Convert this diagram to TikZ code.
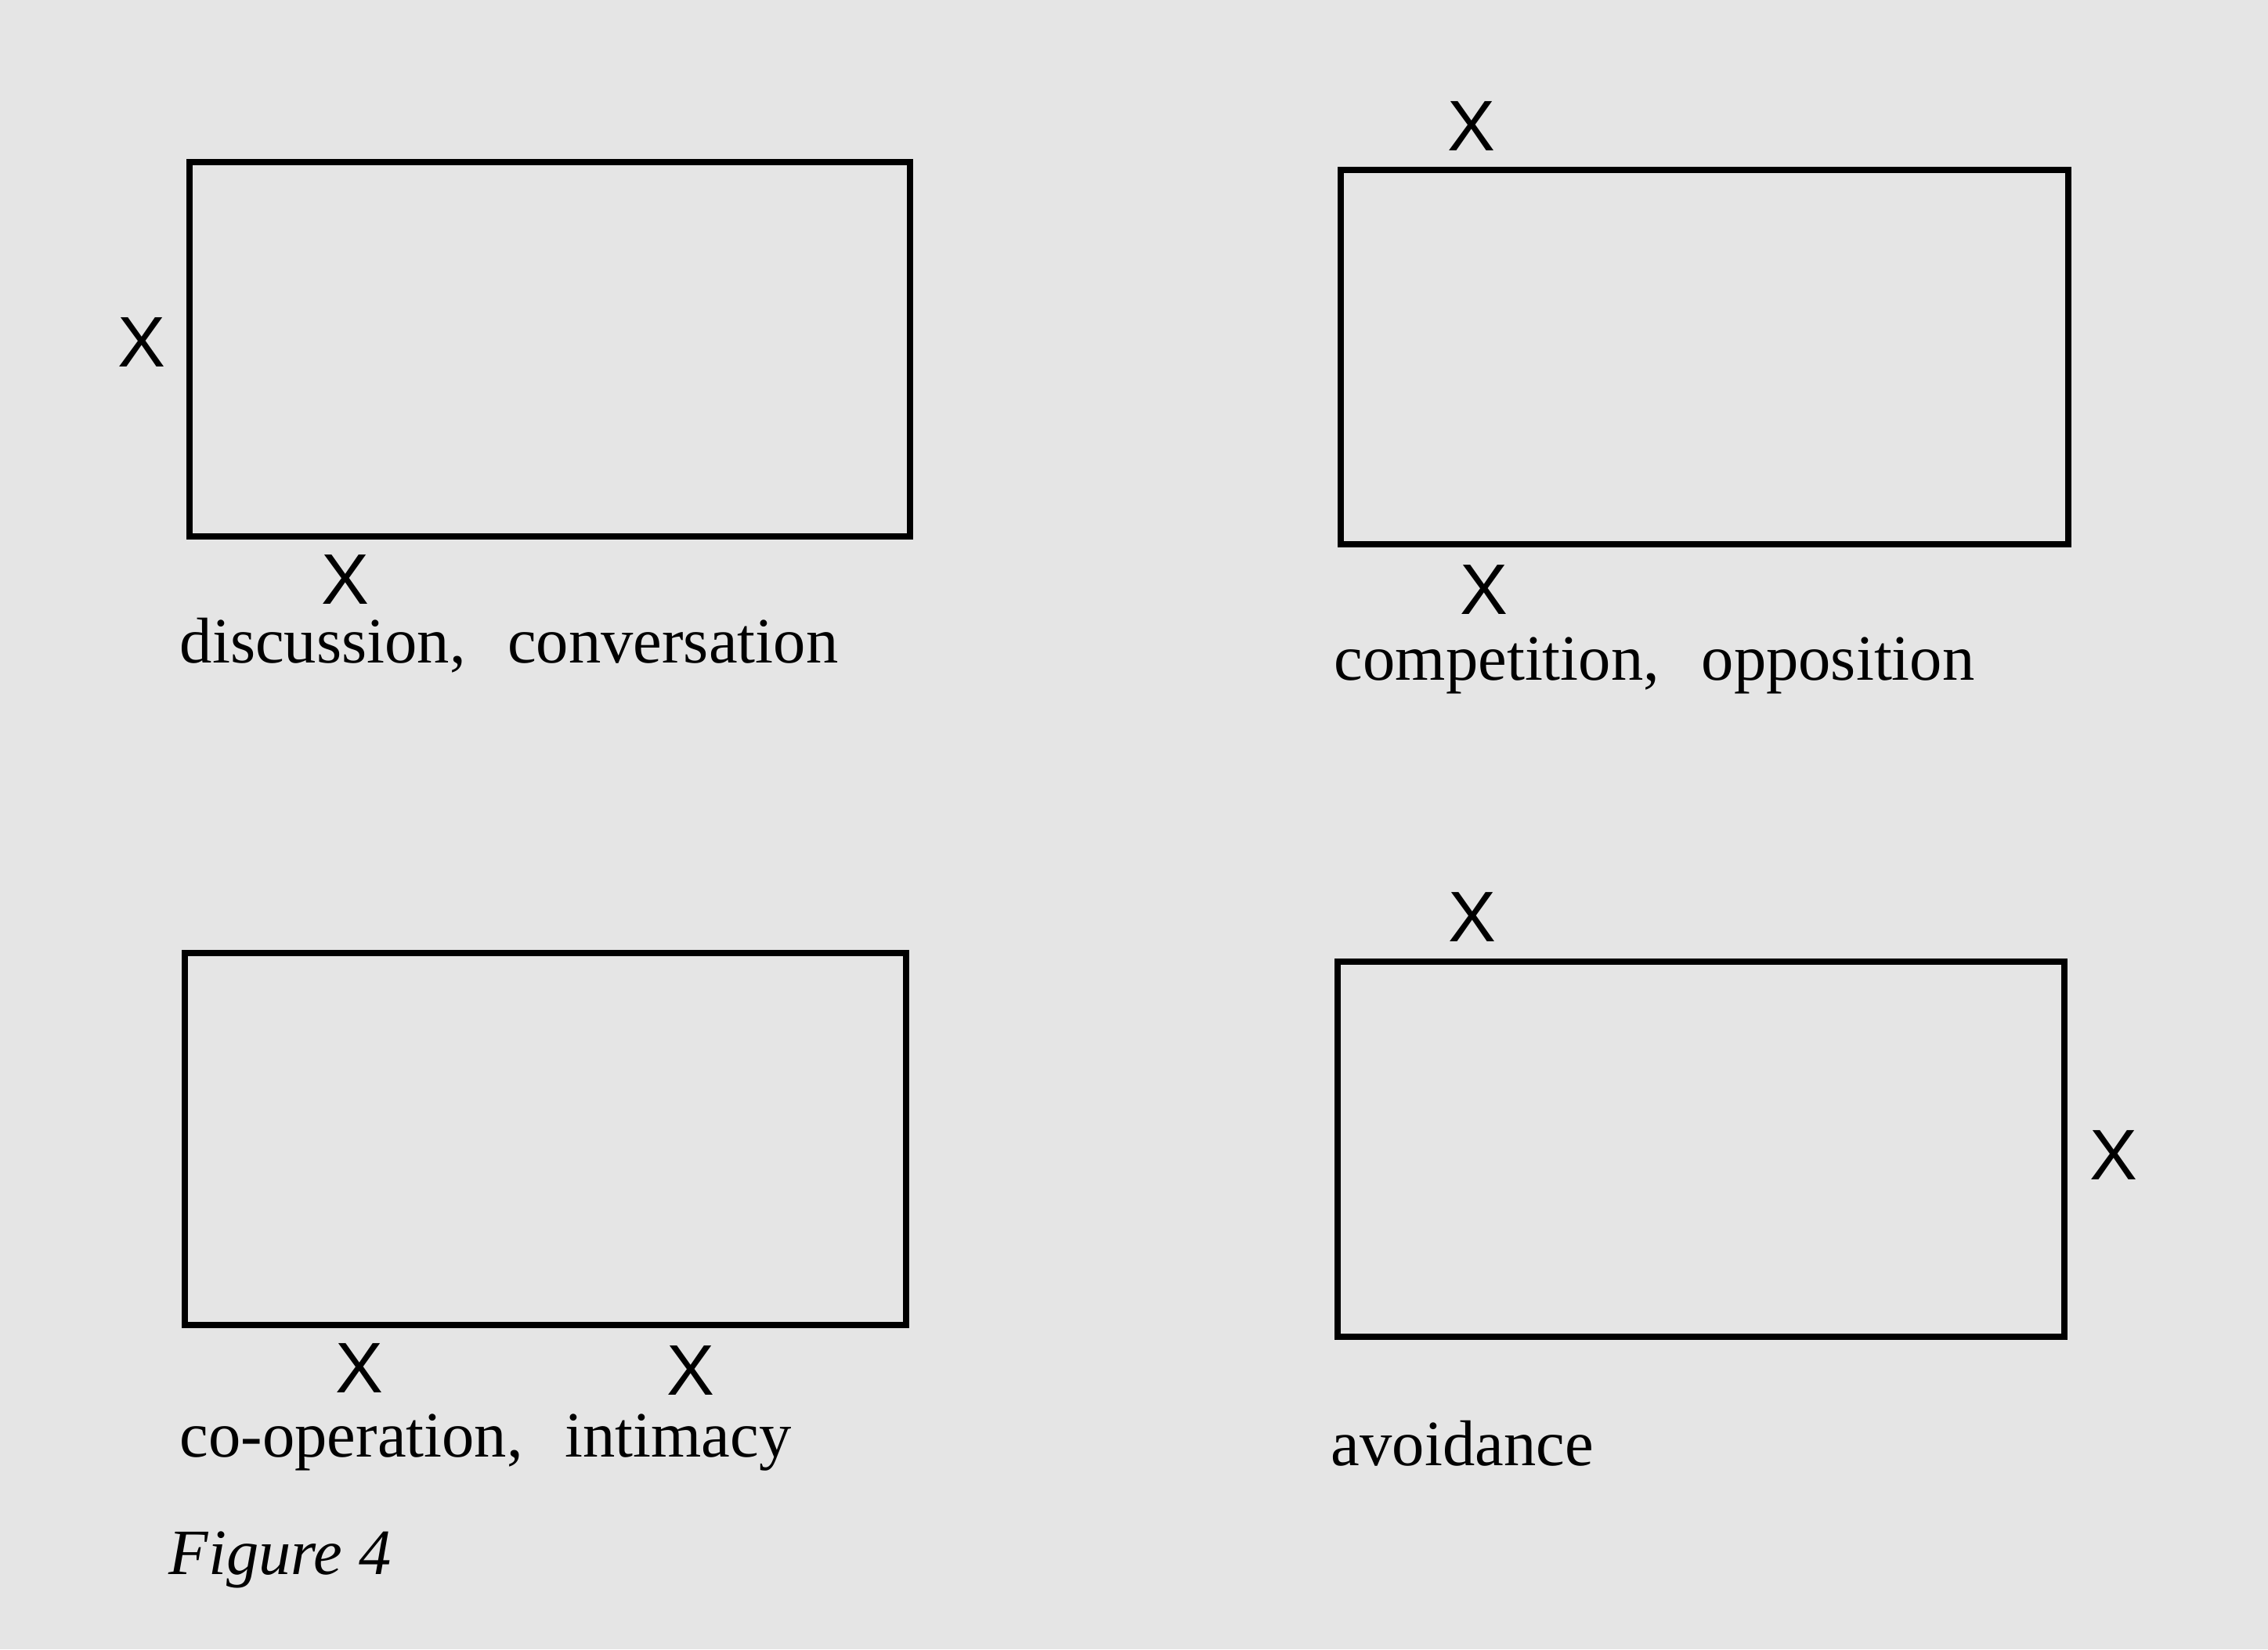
\documentclass[tikz,border=0pt]{standalone}
\usepackage{fontspec}
\setmainfont{Liberation Serif}
\setsansfont{Liberation Sans}
\usepackage{xcolor}
\usetikzlibrary{positioning}
\definecolor{paper}{RGB}{229,229,229}
\tikzstyle{frame} = [draw, rectangle, line width=2.2pt, inner sep=0,
   minimum width=9.25cm, minimum height=4.78cm]
\tikzstyle{cross} = [inner sep=0, font=\sffamily\fontsize{26}{26}\selectfont]
\tikzstyle{caption} = [inner sep=0, anchor=base west,
   font=\fontsize{23.5}{23.5}\selectfont]

\begin{document}
\begin{tikzpicture}
  \fill[paper] (0,0) rectangle (28.96,-21.06);
  \useasboundingbox (0,0) rectangle (28.96,-21.06);

  % tables
  \node[frame, minimum width=9.20cm] (d) at (7.02,-4.46) {};
  \node[frame, minimum width=9.29cm] (c) at (21.765,-4.56) {};
  \node[frame, minimum width=9.21cm, minimum height=4.75cm] (o) at (6.965,-14.545) {};
  \node[frame, minimum width=9.28cm, minimum height=4.79cm] (v) at (21.72,-14.675) {};

  % seats
  \node[cross, left=0.26cm of d, yshift=0.9mm] (d1) {X};
  \node[cross, below right=0.19cm and 1.72cm of d.south west] (d2) {X};
  \node[cross, above right=0.20cm and 1.40cm of c.north west] (c1) {X};
  \node[cross, below right=0.22cm and 1.56cm of c.south west] (c2) {X};
  \node[cross, below right=0.19cm and 1.96cm of o.south west] (o1) {X};
  \node[cross, below right=0.22cm and 6.19cm of o.south west] (o2) {X};
  \node[cross, above right=0.21cm and 1.45cm of v.north west] (v1) {X};
  \node[cross, right=0.28cm of v, yshift=-0.75mm] (v2) {X};

  % captions
  \node[caption] (dc) at ([xshift=-0.09cm, yshift=-1.58cm]d.south west) {discussion,\hspace{0.65em}conversation};
  \node[caption] (cc) at ([xshift=-0.05cm, yshift=-1.70cm]c.south west) {competition,\hspace{0.65em}opposition};
  \node[caption] (oc) at ([xshift=-0.03cm, yshift=-1.65cm]o.south west) {co-operation,\hspace{0.65em}intimacy};
  \node[caption] (vc) at ([xshift=-0.05cm, yshift=-1.61cm]v.south west) {avoidance};
  \node[caption, font=\itshape\fontsize{23.5}{23.5}\selectfont] (fig) at ([xshift=-0.14cm, yshift=-1.50cm]oc.base west) {Figure 4};
\end{tikzpicture}
\end{document}
